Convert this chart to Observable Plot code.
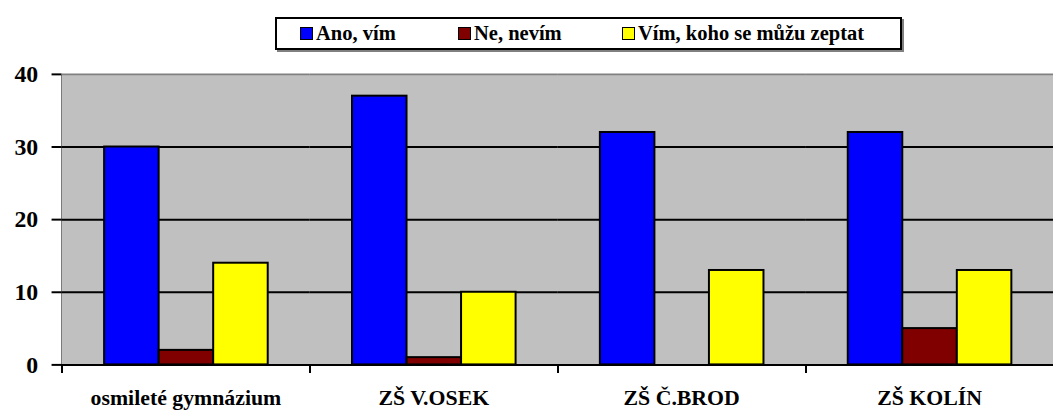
<!DOCTYPE html>
<html>
<head>
<meta charset="utf-8">
<script src="https://cdn.jsdelivr.net/npm/d3@7"></script>
<script src="https://cdn.jsdelivr.net/npm/@observablehq/plot@0.6"></script>
<style>
  html, body { margin: 0; padding: 0; background: white; overflow: hidden; width: 1053px; height: 414px; }
  #legendWrap { position: relative; height: 60px; width: 1053px; }
  #legend {
    position: absolute; left: 275px; top: 17px; width: 623px; height: 29px;
    border: 2px solid black; box-shadow: 2px 2px 0 #808080; background: white;
    display: flex; align-items: center; justify-content: flex-start; padding-left: 0;
    font-family: "Liberation Serif", "Times New Roman", serif;
    font-weight: bold; font-size: 20.5px; color: black;
  }
  .item { display: flex; align-items: center; white-space: nowrap; }
  .sw { width: 11px; height: 11px; border: 1.5px solid black; margin-right: 3px; }
  #chart svg, #chart svg text { font-family: "Liberation Serif", "Times New Roman", serif !important; font-weight: bold; }
  #chart svg [aria-label^="y-axis"] text { font-size: 24px !important; }
  #chart svg [aria-label^="fx-axis"] text { font-size: 22px !important; }
  #chart svg [aria-label^="y-axis"] line, #chart svg [aria-label^="y-axis"] path { stroke: black; stroke-width: 2px; }
  #chart svg [aria-label="frame"] { shape-rendering: crispEdges; }
</style>
</head>
<body>
<div id="legendWrap"><div id="legend"></div></div>
<div id="chart"></div>
<script>
const categories = ["osmileté gymnázium", "ZŠ V.OSEK", "ZŠ Č.BROD", "ZŠ KOLÍN"];
const series = ["Ano, vím", "Ne, nevím", "Vím, koho se můžu zeptat"];
const ano = [30, 37, 32, 32];
const ne = [2, 1, 0, 5];
const vim = [14, 10, 13, 13];
const colors = ["#0000FF", "#800000", "#FFFF00"];
const yTicks = [0, 10, 20, 30, 40];

const seriesValues = [ano, ne, vim];
const data = categories.flatMap((c, i) =>
  series.map((s, j) => ({category: c, series: s, value: seriesValues[j][i]}))
);

// Legend (item slot widths are layout styling)
const slotWidths = ["158px", "164px", "auto"];
const legend = document.getElementById("legend");
series.forEach((s, j) => {
  const it = document.createElement("div");
  it.className = "item";
  it.style.width = slotWidths[j];
  if (j === 0) it.style.marginLeft = "23px";
  const sw = document.createElement("div");
  sw.className = "sw";
  sw.style.background = colors[j];
  const t = document.createElement("span");
  t.textContent = s;
  it.appendChild(sw);
  it.appendChild(t);
  legend.appendChild(it);
});

const chart = Plot.plot({
  width: 1062,
  height: 354,
  marginTop: 14,
  marginBottom: 47,
  marginLeft: 62,
  marginRight: 0,
  style: {fontFamily: "'Liberation Serif', 'Times New Roman', serif", fontWeight: "bold", fontSize: "22px", background: "white", color: "black"},
  fx: {domain: categories, padding: 0, label: null, tickSize: 0, tickPadding: 25},
  x: {domain: series, axis: null, paddingInner: 0, paddingOuter: 0.76},
  y: {domain: [0, 40], ticks: yTicks, tickSize: 10, tickPadding: 14, label: null, line: true},
  color: {domain: series, range: colors},
  marks: [
    Plot.frame({fill: "#C0C0C0", stroke: "none"}),
    Plot.ruleY([10, 20, 30], {stroke: "black", strokeWidth: 2}),
    Plot.ruleY([40], {stroke: "#808080", strokeWidth: 2}),
    Plot.barY(data, {fx: "category", x: "series", y: "value", fill: "series", stroke: "black", strokeWidth: 2}),
    Plot.ruleY([0], {stroke: "black", strokeWidth: 2}),
    Plot.frame({anchor: "left", stroke: "black", strokeWidth: 2, insetTop: 293, insetBottom: -7})
  ]
});
document.getElementById("chart").appendChild(chart);
</script>
</body>
</html>
